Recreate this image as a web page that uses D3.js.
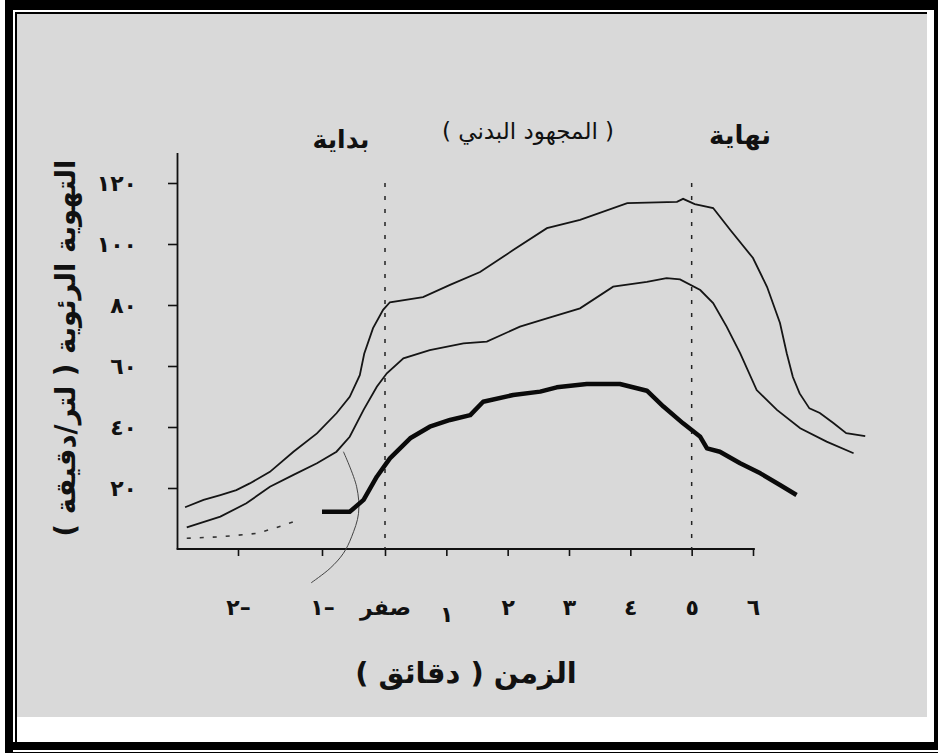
<!DOCTYPE html>
<html>
<head>
<meta charset="utf-8">
<script src="https://cdn.jsdelivr.net/npm/d3@7"></script>
<style>
  body { margin: 0; background: #fff; }
  svg text { font-family: "DejaVu Sans", sans-serif; fill: #111; }
</style>
</head>
<body>
<div id="chart"></div>
<script>
// time in minutes, ventilation in litres/min
const xTicks = [-2, -1, 0, 1, 2, 3, 4, 5, 6];
const xTickLabels = ["٢–", "١–", "صفر", "١", "٢", "٣", "٤", "٥", "٦"];
const yTicks = [20, 40, 60, 80, 100, 120];
const yTickLabels = ["٢٠", "٤٠", "٦٠", "٨٠", "١٠٠", "١٢٠"];

const upper = [
  [-2.63, 13.7], [-2.41, 16.1], [-2.21, 17.7], [-2.02, 19.3], [-1.86, 21.5],
  [-1.62, 25.3], [-1.34, 31.9], [-1.06, 37.9], [-0.77, 44.5], [-0.56, 49.9],
  [-0.40, 57.0], [-0.33, 64.0], [-0.19, 72.4], [-0.03, 78.4], [0.08, 80.9],
  [0.62, 82.6], [1.06, 86.6], [1.55, 90.8], [2.09, 98.0], [2.64, 105.2],
  [3.18, 107.9], [3.95, 113.4], [4.76, 113.8], [4.86, 114.8], [5.05, 113.1],
  [5.35, 111.8], [5.63, 104.6], [6.0, 95.4], [6.23, 85.9], [6.44, 74.1],
  [6.55, 64.2], [6.65, 56.4], [6.76, 51.0], [6.92, 46.1], [7.09, 44.6],
  [7.31, 41.3], [7.52, 38.0], [7.83, 37.0]
];

const middle = [
  [-2.61, 7.1], [-2.21, 10.6], [-1.90, 15.0], [-1.62, 20.4], [-1.34, 24.3],
  [-1.06, 28.1], [-0.77, 31.9], [-0.56, 36.8], [-0.34, 45.6], [-0.13, 53.2],
  [0.03, 57.6], [0.30, 62.5], [0.73, 65.2], [1.28, 67.4], [1.66, 68.0],
  [2.20, 72.9], [2.64, 75.6], [3.18, 78.9], [3.72, 86.0], [4.27, 87.6],
  [4.59, 88.8], [4.81, 88.4], [5.14, 84.9], [5.35, 80.6], [5.57, 72.9],
  [5.79, 64.2], [6.06, 52.1], [6.39, 45.6], [6.77, 39.6], [7.20, 35.2],
  [7.64, 31.4]
];

const exercise = [
  [-1.00, 12.2], [-0.56, 12.2], [-0.34, 16.1], [-0.13, 23.7], [0.08, 29.7],
  [0.41, 36.3], [0.73, 40.1], [1.06, 42.3], [1.39, 43.9], [1.60, 48.3],
  [2.09, 50.5], [2.53, 51.6], [2.80, 53.0], [3.29, 54.1], [3.83, 54.1],
  [4.27, 51.9], [4.54, 46.7], [4.86, 41.2], [5.14, 36.8], [5.25, 33.0],
  [5.46, 31.9], [5.79, 28.1], [6.12, 24.8], [6.44, 21.0], [6.71, 17.7]
];

const rest = [[-2.61, 3.5], [-2.21, 4.0], [-1.78, 5.1], [-1.54, 7.0], [-1.28, 9.5]];

const arc = [[-0.66, 31.9], [-0.45, 20.4], [-0.42, 11.7], [-0.53, 4.0], [-0.66, -1.4], [-0.87, -6.3], [-1.13, -11.1]];

const markers = [0, 5];

const width = 938, height = 753;

const svg = d3.select("#chart")
  .append("svg")
    .attr("width", width)
    .attr("height", height);

// scanned page frame
svg.append("rect").attr("width", width).attr("height", height).attr("fill", "#fff");
svg.append("rect").attr("x", 5).attr("y", 0).attr("width", 933).attr("height", 750).attr("fill", "#000");
svg.append("rect").attr("x", 13).attr("y", 10).attr("width", 921).attr("height", 732).attr("fill", "#fff");
svg.append("rect").attr("x", 15).attr("y", 12).attr("width", 2).attr("height", 730).attr("fill", "#000");
svg.append("rect").attr("x", 15).attr("y", 12).attr("width", 912).attr("height", 2).attr("fill", "#000");
svg.append("rect").attr("x", 17).attr("y", 14).attr("width", 910).attr("height", 703).attr("fill", "#d9d9d9");
svg.append("rect").attr("x", 5).attr("y", 750).attr("width", 8).attr("height", 3).attr("fill", "#000");
svg.append("rect").attr("x", 13).attr("y", 752).attr("width", 925).attr("height", 1).attr("fill", "#000");

// scales: the pre-exercise part of the time axis is stretched
const x = d3.scaleLinear()
  .domain([-2, -1, 0, 6])
  .range([238, 322, 385, 753]);

const y = d3.scaleLinear()
  .domain([0, 130])
  .range([549, 152.5]);

// Y axis
const yAxis = svg.append("g")
  .attr("transform", "translate(177,0)")
  .call(d3.axisLeft(y)
    .tickValues(yTicks)
    .tickFormat((d, i) => yTickLabels[i])
    .tickSize(9)
    .tickSizeOuter(0)
    .tickPadding(31));
yAxis.select(".domain").attr("stroke", "#111").attr("stroke-width", 1.8);
yAxis.selectAll(".tick line").attr("stroke", "#111").attr("stroke-width", 1.6);
yAxis.selectAll(".tick text")
  .attr("font-family", "DejaVu Sans")
  .attr("font-weight", "bold")
  .attr("font-size", 22)
  .attr("fill", "#111");

// X axis
const xAxis = svg.append("g")
  .attr("transform", "translate(0,549)")
  .call(d3.axisBottom(x)
    .tickValues(xTicks)
    .tickFormat((d, i) => xTickLabels[i])
    .tickSize(7)
    .tickSizeOuter(0));
xAxis.select(".domain").remove();
xAxis.selectAll(".tick line").attr("stroke", "#111").attr("stroke-width", 1.6);
xAxis.selectAll(".tick text")
  .attr("font-family", "DejaVu Sans")
  .attr("font-weight", "bold")
  .attr("font-size", 22)
  .attr("fill", "#111")
  .attr("dy", null)
  .attr("y", (d, i) => i === 3 ? 73 : 66);

svg.append("line")
  .attr("x1", x(-2.73)).attr("x2", x(6.03))
  .attr("y1", y(0)).attr("y2", y(0))
  .attr("stroke", "#111")
  .attr("stroke-width", 2);

// start / end of exercise
svg.selectAll(".marker")
  .data(markers)
  .join("line")
    .attr("class", "marker")
    .attr("x1", d => x(d)).attr("x2", d => x(d))
    .attr("y1", y(120)).attr("y2", y(0))
    .attr("stroke", "#222")
    .attr("stroke-width", 1.5)
    .attr("stroke-dasharray", "4,9");

const line = d3.line()
  .x(d => x(d[0]))
  .y(d => y(d[1]));

svg.append("path")
  .datum(rest)
  .attr("fill", "none")
  .attr("stroke", "#333")
  .attr("stroke-width", 1.6)
  .attr("stroke-dasharray", "4,9")
  .attr("d", line);

svg.append("path")
  .datum(arc)
  .attr("fill", "none")
  .attr("stroke", "#444")
  .attr("stroke-width", 1)
  .attr("d", line.curve(d3.curveCatmullRom));

line.curve(d3.curveLinear);

svg.append("path")
  .datum(upper)
  .attr("fill", "none")
  .attr("stroke", "#151515")
  .attr("stroke-width", 1.8)
  .attr("d", line);

svg.append("path")
  .datum(middle)
  .attr("fill", "none")
  .attr("stroke", "#151515")
  .attr("stroke-width", 1.8)
  .attr("d", line);

svg.append("path")
  .datum(exercise)
  .attr("fill", "none")
  .attr("stroke", "#0a0a0a")
  .attr("stroke-width", 4.5)
  .attr("stroke-linejoin", "round")
  .attr("d", line);

// labels
svg.append("text")
  .attr("x", 341).attr("y", 148)
  .attr("text-anchor", "middle")
  .attr("font-size", 25)
  .attr("font-weight", "bold")
  .text("بداية");

svg.append("text")
  .attr("x", 528).attr("y", 139)
  .attr("text-anchor", "middle")
  .attr("font-size", 23)
  .text("( المجهود البدني )");

svg.append("text")
  .attr("x", 740).attr("y", 144)
  .attr("text-anchor", "middle")
  .attr("font-size", 26)
  .attr("font-weight", "bold")
  .text("نهاية");

svg.append("text")
  .attr("transform", "translate(75,348) rotate(-90)")
  .attr("text-anchor", "middle")
  .attr("font-size", 27.5)
  .attr("font-weight", "bold")
  .text("التهوية الرئوية ( لتر/دقيقة )");

svg.append("text")
  .attr("x", 466).attr("y", 683)
  .attr("text-anchor", "middle")
  .attr("font-size", 29)
  .attr("font-weight", "bold")
  .text("الزمن ( دقائق )");
</script>
</body>
</html>
